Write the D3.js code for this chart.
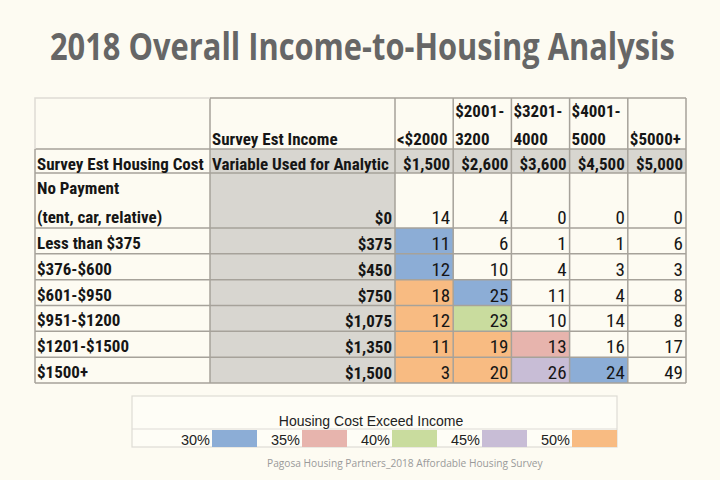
<!DOCTYPE html>
<html><head><meta charset="utf-8">
<script src="https://cdn.jsdelivr.net/npm/d3@7"></script>
<style>
html,body{margin:0;padding:0;background:#fdfbf2;}
svg{display:block;}
</style></head>
<body>
<svg id="chart" width="720" height="480"></svg>
<script>
// ---- data ----
const title = "2018 Overall Income-to-Housing Analysis";
const source = "Pagosa Housing Partners_2018 Affordable Housing Survey";
const rowHeader = "Survey Est Housing Cost";
const colHeader = "Survey Est Income";
const varHeader = "Variable Used for Analytic";
const housingCost = [["No Payment", "(tent, car, relative)"], ["Less than $375"], ["$376-$600"], ["$601-$950"], ["$951-$1200"], ["$1201-$1500"], ["$1500+"]];
const housingValue = ["$0", "$375", "$450", "$750", "$1,075", "$1,350", "$1,500"];
const incomeBrackets = [["<$2000"], ["$2001-", "3200"], ["$3201-", "4000"], ["$4001-", "5000"], ["$5000+"]];
const incomeValue = ["$1,500", "$2,600", "$3,600", "$4,500", "$5,000"];
const counts = [
  [14, 4, 0, 0, 0],
  [11, 6, 1, 1, 6],
  [12, 10, 4, 3, 3],
  [18, 25, 11, 4, 8],
  [12, 23, 10, 14, 8],
  [11, 19, 13, 16, 17],
  [3, 20, 26, 24, 49]
];
// cost-burden level of each highlighted cell ("" = none)
const burden = [
  ["", "", "", "", ""],
  ["30%", "", "", "", ""],
  ["30%", "", "", "", ""],
  ["50%", "30%", "", "", ""],
  ["50%", "40%", "", "", ""],
  ["50%", "50%", "35%", "", ""],
  ["50%", "50%", "45%", "30%", ""]
];
const legendTitle = "Housing Cost Exceed Income";
const levels = ["30%", "35%", "40%", "45%", "50%"];

// ---- styles ----
const color = d3.scaleOrdinal().domain(levels)
  .range(["#8cadd6", "#e7b4ad", "#c9dc9e", "#c8bdd6", "#f8bb82"]);
const BG = "#fdfbf2", GRAY = "#d8d6d0", LINE = "#a6a29a", LIGHT = "#dedcd5";
const narrow = "'Liberation Sans Narrow','Arial Narrow','Roboto Condensed',sans-serif";

const svg = d3.select("#chart");
svg.append("rect").attr("width", 720).attr("height", 480).attr("fill", BG);

// fit a text horizontally to a target span by scaling x
function fitText(sel, x0, width) {
  const w = sel.node().getComputedTextLength();
  const k = width / w;
  sel.attr("x", 0).attr("transform", `translate(${x0},0) scale(${k},1)`);
}

// title
svg.append("text").attr("y", 60)
  .attr("font-family", "'Open Sans',sans-serif").attr("font-weight", 700)
  .attr("font-size", 37).attr("fill", "#666666").text(title)
  .call(fitText, 50, 625);

// ---- table geometry ----
const X0 = 35, X1 = 210, X2 = 395, XR = 686;
const Y0 = 98, Y1 = 149, Y2 = 173, Y3 = 228, YB = 383;
const x = d3.scaleBand().domain(d3.range(incomeBrackets.length)).range([X2, XR]);
const yRows = d3.scaleBand().domain(d3.range(1, housingCost.length)).range([Y3, YB]);
const rowTop = i => i === 0 ? Y2 : yRows(i);
const rowBot = i => i === 0 ? Y3 : yRows(i) + yRows.bandwidth();

const g = svg.append("g");
// gray fills
g.append("rect").attr("x", X1).attr("y", Y1).attr("width", XR - X1).attr("height", Y2 - Y1).attr("fill", GRAY);
g.append("rect").attr("x", X1).attr("y", Y2).attr("width", X2 - X1).attr("height", YB - Y2).attr("fill", GRAY);

// highlighted cells
const cells = [];
counts.forEach((row, i) => row.forEach((v, j) => cells.push({ i, j, v, b: burden[i][j] })));
g.selectAll("rect.cell").data(cells.filter(d => d.b)).join("rect").attr("class", "cell")
  .attr("x", d => x(d.j)).attr("y", d => rowTop(d.i))
  .attr("width", x.bandwidth()).attr("height", d => rowBot(d.i) - rowTop(d.i))
  .attr("fill", d => color(d.b));

// grid lines
const lines = g.append("g").attr("stroke", LINE).attr("stroke-width", 1.5);
g.append("path").attr("d", `M${X0},${Y1}V${Y0}H${X1}`).attr("fill", "none").attr("stroke", LIGHT).attr("stroke-width", 1.5);
const hY = [Y1, Y2].concat(d3.range(1, housingCost.length).map(i => yRows(i)), [YB]);
lines.selectAll("line.h").data(hY).join("line")
  .attr("x1", X0).attr("x2", XR).attr("y1", d => d).attr("y2", d => d);
lines.append("line").attr("x1", X1).attr("x2", XR).attr("y1", Y0).attr("y2", Y0);
lines.append("line").attr("x1", X0).attr("x2", X0).attr("y1", Y1).attr("y2", YB);
const vX = [X1].concat(d3.range(incomeBrackets.length).map(j => x(j)), [XR]);
lines.selectAll("line.v").data(vX).join("line")
  .attr("x1", d => d).attr("x2", d => d).attr("y1", Y0).attr("y2", YB);

// ---- texts ----
const T = svg.append("g").attr("font-family", narrow).attr("font-size", 17).attr("fill", "#161616");
const bold = sel => sel.attr("font-weight", 700);
T.append("text").attr("x", X1 + 2).attr("y", Y1 - 4).text(colHeader).call(bold);
incomeBrackets.forEach((lab, j) => {
  lab.forEach((s, k) => {
    T.append("text").attr("x", x(j) + 2).attr("y", Y1 - 4 - (lab.length - 1 - k) * 28).text(s).call(bold);
  });
});
T.append("text").attr("x", X0 + 2).attr("y", Y2 - 3).text(rowHeader).call(bold);
T.append("text").attr("x", X1 + 2).attr("y", Y2 - 3).text(varHeader).call(bold);
T.selectAll("text.iv").data(incomeValue).join("text").attr("class", "iv")
  .attr("x", (d, j) => x(j) + x.bandwidth() - 3).attr("y", Y2 - 3)
  .attr("text-anchor", "end").text(d => d).call(bold);
housingCost.forEach((lab, i) => {
  lab.forEach((s, k) => {
    T.append("text").attr("x", X0 + 2).attr("y", rowBot(i) - 5 - (lab.length - 1 - k) * 29).text(s).call(bold);
  });
});
T.selectAll("text.hv").data(housingValue).join("text").attr("class", "hv")
  .attr("x", X2 - 3).attr("y", (d, i) => rowBot(i) - 4)
  .attr("text-anchor", "end").text(d => d).call(bold);
T.selectAll("text.num").data(cells).join("text").attr("class", "num")
  .attr("x", d => x(d.j) + x.bandwidth() - 3).attr("y", d => rowBot(d.i) - 4)
  .attr("font-size", 19)
  .attr("text-anchor", "end").text(d => d.v);

// ---- legend ----
const L = svg.append("g");
const LX0 = 132, LX1 = 617, LY0 = 396, LY1 = 429, LY2 = 447;
const lx = d3.scaleBand().domain(levels).range([LX1 - 90 * levels.length, LX1]);
L.append("rect").attr("x", LX0).attr("y", LY0).attr("width", LX1 - LX0).attr("height", LY2 - LY0)
  .attr("fill", "#fefdf6").attr("stroke", LIGHT).attr("stroke-width", 1.2);
L.append("line").attr("x1", LX0).attr("x2", LX1).attr("y1", LY1).attr("y2", LY1).attr("stroke", LIGHT).attr("stroke-width", 1.2);
L.selectAll("rect.sw").data(levels).join("rect").attr("class", "sw")
  .attr("x", d => lx(d) + lx.bandwidth() / 2).attr("y", LY1 + 1)
  .attr("width", lx.bandwidth() / 2).attr("height", LY2 - LY1 - 1).attr("fill", d => color(d));
L.selectAll("text.lv").data(levels).join("text").attr("class", "lv")
  .attr("x", d => lx(d) + lx.bandwidth() / 2 - 2).attr("y", LY2 - 2.5)
  .attr("text-anchor", "end").attr("font-family", "'Liberation Sans',Arial,sans-serif")
  .attr("font-size", 14.5).attr("fill", "#222").text(d => d);
L.append("text").attr("x", 371).attr("y", LY1 - 3).attr("text-anchor", "middle")
  .attr("font-family", "'Liberation Sans',Arial,sans-serif").attr("font-size", 14)
  .attr("fill", "#222").text(legendTitle);

svg.append("text").attr("y", 467)
  .attr("font-family", "'Open Sans',sans-serif").attr("font-size", 11).attr("fill", "#9a9a9a").text(source)
  .call(fitText, 267, 276);
</script>
</body></html>
